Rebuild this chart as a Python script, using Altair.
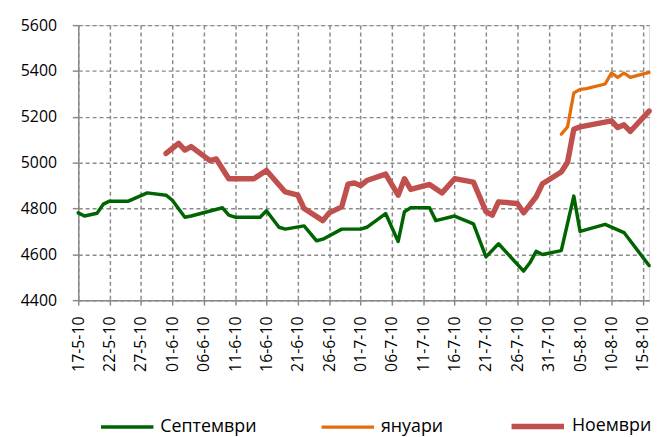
import altair as alt
import pandas as pd

# ---- data ----
sep_dates = ["2010-05-17", "2010-05-18", "2010-05-20", "2010-05-21", "2010-05-22",
             "2010-05-25", "2010-05-28", "2010-05-31", "2010-06-01", "2010-06-03",
             "2010-06-04", "2010-06-09", "2010-06-10", "2010-06-11", "2010-06-15",
             "2010-06-16", "2010-06-18", "2010-06-19", "2010-06-22", "2010-06-24",
             "2010-06-25", "2010-06-28", "2010-07-01", "2010-07-02", "2010-07-05",
             "2010-07-07", "2010-07-08", "2010-07-09", "2010-07-12", "2010-07-13",
             "2010-07-16", "2010-07-19", "2010-07-21", "2010-07-23", "2010-07-27",
             "2010-07-28", "2010-07-29", "2010-07-30", "2010-08-02", "2010-08-04",
             "2010-08-05", "2010-08-09", "2010-08-12", "2010-08-16"]
sep_values = [4781, 4767, 4779, 4819, 4832,
              4832, 4868, 4858, 4836, 4762,
              4767, 4803, 4771, 4762, 4762,
              4790, 4718, 4710, 4724, 4659,
              4666, 4710, 4710, 4718, 4778,
              4656, 4786, 4803, 4803, 4747,
              4767, 4733, 4589, 4646, 4527,
              4563, 4613, 4599, 4616, 4854,
              4700, 4731, 4695, 4551]

jan_dates = ["2010-08-02", "2010-08-03", "2010-08-04", "2010-08-05", "2010-08-06",
             "2010-08-09", "2010-08-10", "2010-08-11", "2010-08-12", "2010-08-13",
             "2010-08-16"]
jan_values = [5124, 5156, 5304, 5320, 5323,
              5343, 5391, 5372, 5391, 5372,
              5394]

nov_dates = ["2010-05-31", "2010-06-02", "2010-06-03", "2010-06-04", "2010-06-07",
             "2010-06-08", "2010-06-10", "2010-06-14", "2010-06-16", "2010-06-19",
             "2010-06-21", "2010-06-22", "2010-06-25", "2010-06-26", "2010-06-28",
             "2010-06-29", "2010-06-30", "2010-07-01", "2010-07-02", "2010-07-05",
             "2010-07-07", "2010-07-08", "2010-07-09", "2010-07-12", "2010-07-14",
             "2010-07-16", "2010-07-19", "2010-07-21", "2010-07-22", "2010-07-23",
             "2010-07-26", "2010-07-27", "2010-07-29", "2010-07-30", "2010-08-02",
             "2010-08-03", "2010-08-04", "2010-08-05", "2010-08-10", "2010-08-11",
             "2010-08-12", "2010-08-13", "2010-08-16"]
nov_values = [5040, 5084, 5055, 5070, 5009,
              5016, 4930, 4930, 4966, 4872,
              4858, 4800, 4747, 4781, 4807,
              4906, 4911, 4900, 4922, 4950,
              4858, 4930, 4883, 4905, 4868,
              4930, 4915, 4786, 4771, 4829,
              4822, 4781, 4851, 4908, 4959,
              5002, 5146, 5156, 5182, 5153,
              5165, 5136, 5225]

series_names = ["Септември", "януари", "Ноември"]
series_colors = ["#006400", "#E46C0A", "#C0504D"]
series_widths = [3.5, 3.3, 5.5]

tick_dates = ["2010-05-17", "2010-05-22", "2010-05-27", "2010-06-01", "2010-06-06",
              "2010-06-11", "2010-06-16", "2010-06-21", "2010-06-26", "2010-07-01",
              "2010-07-06", "2010-07-11", "2010-07-16", "2010-07-21", "2010-07-26",
              "2010-07-31", "2010-08-05", "2010-08-10", "2010-08-15"]
x_domain = ["2010-05-17", "2010-08-16"]
y_ticks = [4400, 4600, 4800, 5000, 5200, 5400, 5600]

# ---- table ----
rows = []
for name, ds, vs in [(series_names[0], sep_dates, sep_values),
                     (series_names[1], jan_dates, jan_values),
                     (series_names[2], nov_dates, nov_values)]:
    for d, v in zip(ds, vs):
        rows.append({"date": d, "value": v, "series": name})
df = pd.DataFrame(rows)


def ms(d):
    return int(pd.Timestamp(d).value // 10**6)


FONT = "Open Sans"
GRID = "#8a8a8a"

legend = alt.Legend(title=None, orient="none", legendX=21, legendY=376,
                    direction="horizontal", symbolType="stroke",
                    symbolSize=2809, labelOffset=5, columnPadding=58,
                    labelFont=FONT, labelFontSize=18, labelColor="#000000")

chart = alt.Chart(df).mark_line(strokeCap="round", strokeJoin="round").encode(
    x=alt.X("date:T",
            scale=alt.Scale(type="utc", domain=[ms(d) for d in x_domain]),
            axis=alt.Axis(values=[ms(d) for d in tick_dates],
                          labelExpr="utcFormat(datum.value, '%d-%-m-%y')",
                          labelAngle=-90, labelAlign="right",
                          labelBaseline="middle", labelPadding=11, title=None,
                          grid=True, gridDash=[4, 3], gridColor=GRID, gridWidth=1.5,
                          tickSize=5, tickColor=GRID, tickWidth=1.5,
                          domainColor=GRID, domainWidth=1.5,
                          labelFont=FONT, labelFontSize=16, labelColor="#000000")),
    y=alt.Y("value:Q",
            scale=alt.Scale(domain=[4400, 5600], nice=False, zero=False),
            axis=alt.Axis(values=y_ticks, format="d", title=None, grid=True,
                          gridDash=[4, 3], gridColor=GRID, gridWidth=1.5, tickSize=6,
                          tickColor=GRID, tickWidth=1.5, domainColor=GRID,
                          domainWidth=1.5, labelPadding=16, labelFont=FONT,
                          labelFontSize=16, labelColor="#000000")),
    color=alt.Color("series:N",
                    scale=alt.Scale(domain=series_names, range=series_colors),
                    legend=legend),
    strokeWidth=alt.StrokeWidth("series:N",
                                scale=alt.Scale(type="ordinal", domain=series_names,
                                                range=series_widths),
                                legend=legend),
    order=alt.Order("date:T"),
).properties(
    width=577, height=278,
    autosize=alt.AutoSizeParams(type="none"),
    padding={"left": 71, "top": 15, "right": 8, "bottom": 136},
).configure_view(stroke=None).configure(background="#ffffff")

chart.save("out.html", embed_options={"renderer": "svg", "actions": False})
